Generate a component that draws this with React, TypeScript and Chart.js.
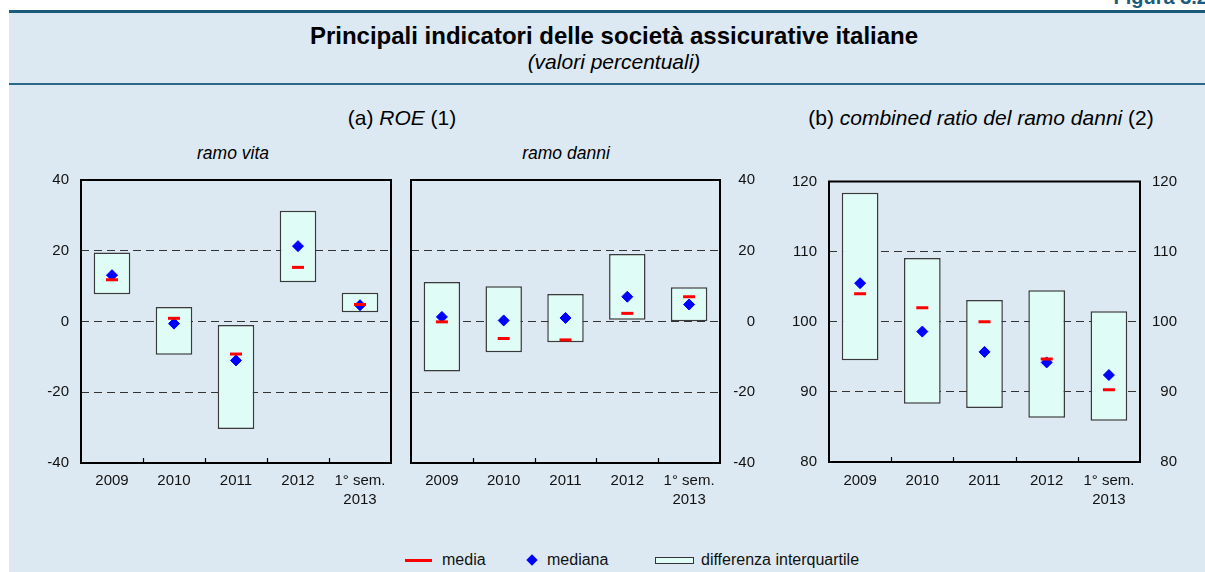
import React, { useEffect, useRef } from "react";
import { Chart, registerables } from "chart.js";

Chart.register(...registerables);

const FONT = '"Liberation Sans", Arial, Helvetica, sans-serif';
Chart.defaults.font.family = FONT;

// ---------- data ----------
const categories: string[][] = [["2009"], ["2010"], ["2011"], ["2012"], ["1° sem.", "2013"]];

// (a) ROE – ramo vita
const vitaQ1 = [7.7, -9.4, -30.4, 11.1, 2.6];
const vitaQ3 = [19.5, 4.1, -1.0, 31.3, 8.1];
const vitaMean = [11.8, 0.9, -9.2, 15.3, 4.8];
const vitaMedian = [13.1, -0.6, -11.0, 21.3, 4.6];

// (a) ROE – ramo danni
const danniQ1 = [-14.1, -8.7, -5.9, 0.5, 0.1];
const danniQ3 = [11.2, 10.0, 7.8, 19.1, 9.7];
const danniMean = [-0.1, -4.8, -5.2, 2.3, 7.0];
const danniMedian = [1.3, 0.3, 1.0, 7.0, 4.8];

// (b) combined ratio del ramo danni
const crQ1 = [94.5, 88.3, 87.7, 86.3, 85.9];
const crQ3 = [118.4, 109.1, 103.1, 104.5, 101.5];
const crMean = [104.0, 102.0, 100.0, 94.7, 90.3];
const crMedian = [105.5, 98.6, 95.7, 94.2, 92.4];

const roeRange = { min: -40, max: 40, step: 20 };
const crRange = { min: 80, max: 120, step: 10 };

// ---------- styles ----------
const BOX_FILL = "#e0fcf6";
const BOX_BORDER = "#3a3a3a";
const MEAN_COLOR = "#ff0000";
const MEDIAN_COLOR = "#0000ff";
const BG = "#dce9f2";
const TEAL = "#1b5b7c";

const framePlugin = {
  id: "frame",
  afterDraw(chart: any) {
    const { ctx, chartArea } = chart;
    const x = chart.scales.x;
    ctx.save();
    ctx.strokeStyle = "#000";
    ctx.lineWidth = 2;
    ctx.setLineDash([]);
    ctx.strokeRect(chartArea.left, chartArea.top, chartArea.right - chartArea.left, chartArea.bottom - chartArea.top);
    ctx.lineWidth = 1.2;
    for (let i = 1; i < categories.length; i++) {
      const px = Math.round((x.getPixelForValue(i - 1) + x.getPixelForValue(i)) / 2) + 0.5;
      ctx.beginPath();
      ctx.moveTo(px, chartArea.bottom);
      ctx.lineTo(px, chartArea.bottom - 5);
      ctx.stroke();
    }
    ctx.restore();
  },
};

type PanelOpts = {
  q1: number[];
  q3: number[];
  mean: number[];
  median: number[];
  range: { min: number; max: number; step: number };
  left: boolean;
  right: boolean;
  leftWidth: number;
  rightWidth: number;
  padding: { left: number; right: number; top: number; bottom: number };
  xHeight: number;
  xPad: number;
};

function zeroPad(s: any) {
  s.paddingTop = 0;
  s.paddingBottom = 0;
  s.paddingLeft = 0;
  s.paddingRight = 0;
}

function yAxis(range: PanelOpts["range"], position: "left" | "right", width: number, grid: boolean) {
  return {
    type: "linear",
    position,
    min: range.min,
    max: range.max,
    ticks: {
      stepSize: range.step,
      padding: 12,
      crossAlign: position === "right" ? "far" : "near",
      color: "#111",
      font: { size: 15, family: FONT },
    },
    grid: {
      display: grid,
      drawTicks: false,
      color: "#333",
      lineWidth: 1,
    },
    border: { display: false, dash: [8, 5] },
    afterFit: (s: any) => {
      s.width = width;
      zeroPad(s);
    },
  };
}

function makeConfig(o: PanelOpts): any {
  const scales: any = {
    x: {
      type: "category",
      offset: true,
      grid: { display: false, drawTicks: false },
      border: { display: false },
      ticks: {
        padding: o.xPad,
        color: "#111",
        maxRotation: 0,
        autoSkip: false,
        font: { size: 15, family: FONT, lineHeight: 1.3 },
      },
      afterFit: (s: any) => {
        s.height = o.xHeight;
        zeroPad(s);
      },
    },
  };
  if (o.left && o.right) {
    scales.y = yAxis(o.range, "left", o.leftWidth, true);
    scales.y2 = yAxis(o.range, "right", o.rightWidth, false);
  } else if (o.left) {
    scales.y = yAxis(o.range, "left", o.leftWidth, true);
  } else {
    scales.y = yAxis(o.range, "right", o.rightWidth, true);
  }
  return {
    type: "bar",
    data: {
      labels: categories,
      datasets: [
        {
          type: "line",
          label: "media",
          data: o.mean,
          yAxisID: "y",
          showLine: false,
          pointStyle: "line",
          pointRadius: 6,
          pointHoverRadius: 6,
          pointBorderWidth: 3,
          pointHoverBorderWidth: 3,
          borderColor: MEAN_COLOR,
          backgroundColor: MEAN_COLOR,
          order: 1,
        },
        {
          type: "line",
          label: "mediana",
          data: o.median,
          yAxisID: "y",
          showLine: false,
          pointStyle: "rectRot",
          pointRadius: 5.5,
          pointHoverRadius: 5.5,
          pointBorderWidth: 1,
          borderColor: MEDIAN_COLOR,
          backgroundColor: MEDIAN_COLOR,
          order: 2,
        },
        {
          type: "bar",
          label: "differenza interquartile",
          data: o.q1.map((v, i) => [v, o.q3[i]]),
          yAxisID: "y",
          backgroundColor: BOX_FILL,
          borderColor: BOX_BORDER,
          borderWidth: 1.5,
          borderSkipped: false,
          categoryPercentage: 1,
          barPercentage: 0.59,
          order: 3,
        },
      ],
    },
    options: {
      responsive: false,
      animation: false,
      events: [],
      devicePixelRatio: 1,
      layout: { padding: o.padding },
      plugins: {
        legend: { display: false },
        tooltip: { enabled: false },
        title: { display: false },
      },
      scales,
    },
    plugins: [framePlugin],
  };
}

function Panel(props: { opts: PanelOpts; left: number; top: number; width: number; height: number }) {
  const ref = useRef<HTMLCanvasElement>(null);
  useEffect(() => {
    const chart = new Chart(ref.current as HTMLCanvasElement, makeConfig(props.opts));
    return () => chart.destroy();
  }, []);
  return (
    <div style={{ position: "absolute", left: props.left, top: props.top, width: props.width, height: props.height }}>
      <canvas ref={ref} width={props.width} height={props.height} style={{ width: props.width, height: props.height }} />
    </div>
  );
}

function Label(props: { cx: number; cy: number; size: number; bold?: boolean; italic?: boolean; children: React.ReactNode; color?: string }) {
  const lh = Math.round(props.size * 1.3);
  return (
    <div
      style={{
        position: "absolute",
        left: props.cx - 400,
        width: 800,
        top: props.cy - lh / 2,
        lineHeight: lh + "px",
        height: lh,
        textAlign: "center",
        fontFamily: FONT,
        fontSize: props.size,
        fontWeight: props.bold ? "bold" : "normal",
        fontStyle: props.italic ? "italic" : "normal",
        color: props.color || "#000",
        whiteSpace: "nowrap",
      }}
    >
      {props.children}
    </div>
  );
}

export default function App() {
  const legendText: React.CSSProperties = {
    position: "absolute",
    top: 550,
    lineHeight: "20px",
    fontFamily: FONT,
    fontSize: 16,
    color: "#111",
    whiteSpace: "nowrap",
  };
  return (
    <div style={{ position: "fixed", left: 0, top: 0, width: 1205, height: 572, background: "#fff", overflow: "hidden" }}>
      <div
        style={{
          position: "absolute",
          right: -3,
          top: -13,
          fontFamily: FONT,
          fontWeight: "bold",
          fontSize: 20,
          lineHeight: "20px",
          color: TEAL,
          whiteSpace: "nowrap",
        }}
      >
        Figura 3.2
      </div>
      <div style={{ position: "absolute", left: 9, top: 10, width: 1210, height: 570, background: BG, borderTop: `3px solid ${TEAL}` }} />
      <div style={{ position: "absolute", left: 9, top: 83, width: 1210, height: 2, background: "#2a6788" }} />

      <Label cx={614} cy={35} size={24} bold>
        Principali indicatori delle società assicurative italiane
      </Label>
      <Label cx={614} cy={61} size={21} italic>
        (valori percentuali)
      </Label>

      <Label cx={402} cy={117} size={21}>
        (a) <i>ROE</i> (1)
      </Label>
      <Label cx={981} cy={117} size={21}>
        (b) <i>combined ratio del ramo danni</i> (2)
      </Label>
      <Label cx={233} cy={153} size={17.5} italic>
        ramo vita
      </Label>
      <Label cx={566} cy={153} size={17.5} italic>
        ramo danni
      </Label>

      <Panel
        left={20}
        top={170}
        width={380}
        height={340}
        opts={{
          q1: vitaQ1,
          q3: vitaQ3,
          mean: vitaMean,
          median: vitaMedian,
          range: roeRange,
          left: true,
          right: false,
          leftWidth: 61,
          rightWidth: 0,
          padding: { left: 0, right: 9, top: 10, bottom: 0 },
          xHeight: 47,
          xPad: 8,
        }}
      />
      <Panel
        left={400}
        top={170}
        width={380}
        height={340}
        opts={{
          q1: danniQ1,
          q3: danniQ3,
          mean: danniMean,
          median: danniMedian,
          range: roeRange,
          left: false,
          right: true,
          leftWidth: 0,
          rightWidth: 35,
          padding: { left: 11, right: 25, top: 10, bottom: 0 },
          xHeight: 47,
          xPad: 8,
        }}
      />
      <Panel
        left={780}
        top={170}
        width={425}
        height={340}
        opts={{
          q1: crQ1,
          q3: crQ3,
          mean: crMean,
          median: crMedian,
          range: crRange,
          left: true,
          right: true,
          leftWidth: 49,
          rightWidth: 37,
          padding: { left: 0, right: 28, top: 11.5, bottom: 0 },
          xHeight: 48,
          xPad: 9,
        }}
      />

      {/* legend */}
      <div style={{ position: "absolute", left: 405, top: 559, width: 27, height: 3, background: MEAN_COLOR }} />
      <div style={{ ...legendText, left: 442 }}>media</div>
      <div
        style={{
          position: "absolute",
          left: 528,
          top: 556,
          width: 8,
          height: 8,
          background: MEDIAN_COLOR,
          transform: "rotate(45deg)",
        }}
      />
      <div style={{ ...legendText, left: 547 }}>mediana</div>
      <div
        style={{
          position: "absolute",
          left: 655,
          top: 557,
          width: 37,
          height: 5,
          background: BOX_FILL,
          border: "1px solid #333",
        }}
      />
      <div style={{ ...legendText, left: 701 }}>differenza interquartile</div>
    </div>
  );
}
